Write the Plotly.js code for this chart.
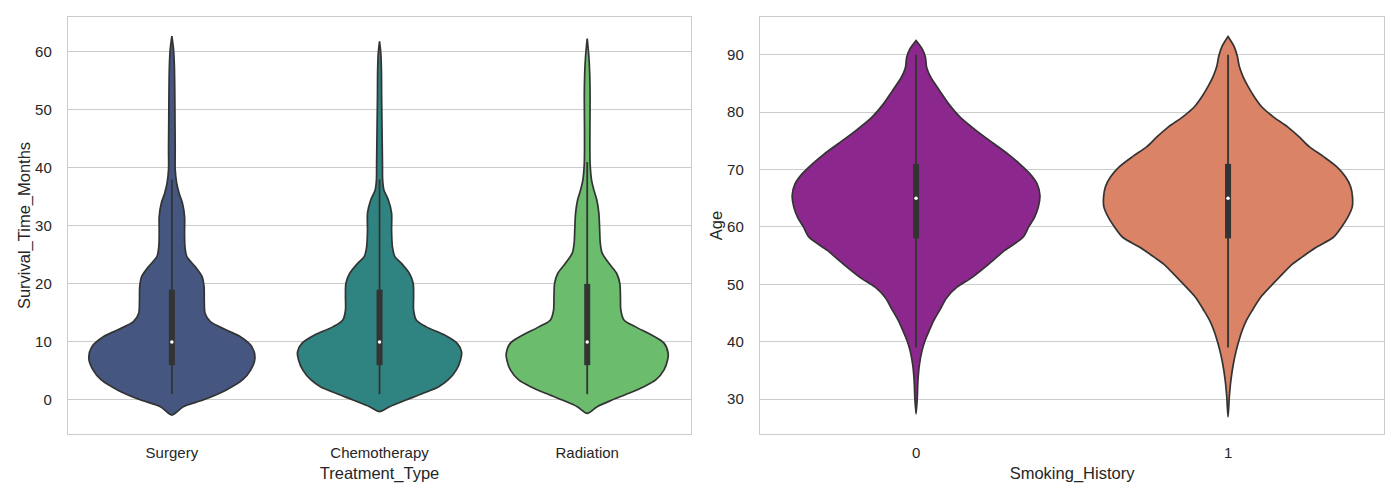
<!DOCTYPE html>
<html>
<head>
<meta charset="utf-8">
<script src="https://cdn.plot.ly/plotly-3.0.1.min.js"></script>
<style>
  html, body { margin: 0; padding: 0; background: #ffffff; }
  #chart { width: 1400px; height: 500px; }
</style>
</head>
<body>
<div id="chart"></div>
<script>
const CHART = document.getElementById('chart');

const INK = '#262626';
const GRID = '#cccccc';
const EDGE = '#333333';

// left panel: survival time by treatment
const treatments = ['Surgery', 'Chemotherapy', 'Radiation'];
const treatColors = ['#455681', '#2f8380', '#6cbc6e'];

// density outline: value levels and half widths (category units)
const surgeryY = [-2.6, -1.15, 0, 1.7, 3.45, 5.2, 7.2, 9.2, 10.9, 12.1, 13.5, 14.9, 17.2, 19.5, 21.3, 23.0, 24.7, 26.4, 28.7, 31.6, 33.9, 35.6, 37.4, 39.7, 43.1, 48, 53, 57.5, 60.4, 62.7];
const surgeryW = [0, 0.055, 0.15, 0.26, 0.34, 0.38, 0.40, 0.385, 0.33, 0.26, 0.185, 0.16, 0.156, 0.155, 0.145, 0.112, 0.072, 0.063, 0.061, 0.061, 0.051, 0.035, 0.023, 0.016, 0.016, 0.015, 0.014, 0.012, 0.008, 0];

const chemoY = [-2.0, -1.15, 0, 1.15, 2.3, 3.45, 5.2, 6.9, 8.3, 9.8, 11.2, 12.6, 13.8, 15.5, 17.8, 20.1, 21.8, 23.6, 24.7, 26.4, 29.3, 32.2, 34.5, 36.2, 37.9, 40.8, 46.6, 52.3, 56.9, 59.8, 61.8];
const chemoW = [0, 0.048, 0.128, 0.21, 0.285, 0.33, 0.37, 0.39, 0.395, 0.373, 0.313, 0.225, 0.177, 0.164, 0.164, 0.162, 0.144, 0.104, 0.074, 0.062, 0.058, 0.058, 0.042, 0.021, 0.015, 0.014, 0.012, 0.010, 0.009, 0.006, 0];

const radiationY = [-2.3, -1.15, 0, 1.15, 2.3, 3.45, 5.2, 6.9, 8.0, 9.8, 11.2, 12.6, 13.8, 15.5, 17.8, 20.1, 21.8, 23.6, 25.3, 27.0, 29.3, 32.2, 34.5, 36.2, 37.9, 40.8, 46.6, 52.3, 56.3, 59.2, 62.3];
const radiationW = [0, 0.048, 0.12, 0.20, 0.273, 0.33, 0.37, 0.387, 0.39, 0.37, 0.31, 0.233, 0.177, 0.162, 0.16, 0.157, 0.142, 0.104, 0.072, 0.063, 0.06, 0.056, 0.046, 0.032, 0.021, 0.014, 0.013, 0.014, 0.012, 0.008, 0];

const treatQ1 = [6, 6, 6];
const treatMed = [10, 10, 10];
const treatQ3 = [19, 19, 20];
const treatLo = [1, 1, 1];
const treatHi = [38, 38, 41];

// right panel: age by smoking history
const smoking = ['0', '1'];
const smokeColors = ['#8c288d', '#da8366'];

const smoke0Y = [27.4, 30.3, 33.2, 36.1, 38.4, 40.2, 41.9, 43.7, 45.4, 47.7, 49.5, 51.2, 53.5, 55.9, 58.2, 60.0, 61.7, 63.5, 65.5, 67.5, 69.2, 71.0, 72.7, 74.5, 76.8, 79.1, 81.5, 83.8, 86.1, 87.8, 89.6, 91.0, 92.5];
const smoke0W = [0, 0.004, 0.006, 0.011, 0.019, 0.029, 0.042, 0.057, 0.075, 0.099, 0.131, 0.18, 0.233, 0.284, 0.343, 0.361, 0.38, 0.392, 0.397, 0.388, 0.366, 0.332, 0.295, 0.25, 0.193, 0.142, 0.104, 0.075, 0.047, 0.034, 0.030, 0.02, 0];

const smoke1Y = [26.9, 30.3, 33.2, 36.1, 38.4, 40.2, 41.9, 43.7, 45.4, 47.7, 49.5, 51.2, 53.5, 54.7, 56.5, 58.2, 60.0, 61.7, 63.5, 65.2, 67.0, 68.7, 70.5, 72.3, 74.0, 75.7, 77.5, 79.2, 81.0, 82.7, 84.5, 86.2, 88.0, 89.7, 91.4, 93.2];
const smoke1W = [0, 0.004, 0.009, 0.017, 0.026, 0.035, 0.045, 0.059, 0.077, 0.104, 0.134, 0.164, 0.206, 0.236, 0.284, 0.338, 0.364, 0.384, 0.398, 0.399, 0.393, 0.377, 0.348, 0.305, 0.26, 0.228, 0.19, 0.145, 0.107, 0.084, 0.064, 0.048, 0.036, 0.030, 0.02, 0];

const smokeQ1 = [58, 58];
const smokeMed = [65, 65];
const smokeQ3 = [71, 71];
const smokeLo = [39, 39];
const smokeHi = [90, 90];

/**
 * Closed outline of one violin around category position pos.
 */
function violinTrace(pos, ys, ws, color, xa, ya) {
    const x = [], y = [];
    for (let i = 0; i < ys.length; i++) { x.push(pos - ws[i]); y.push(ys[i]); }
    for (let i = ys.length - 1; i >= 0; i--) { x.push(pos + ws[i]); y.push(ys[i]); }
    return {
        x: x, y: y, xaxis: xa, yaxis: ya,
        type: 'scatter', mode: 'lines', fill: 'toself', fillcolor: color,
        line: { color: EDGE, width: 1.7, shape: 'spline', smoothing: 0.8 },
        hoverinfo: 'skip', showlegend: false
    };
}

/**
 * Inner box: whisker line, thick quartile bar and white median dot.
 */
function boxTraces(pos, q1, med, q3, lo, hi, xa, ya) {
    return [
        { x: [pos, pos], y: [lo, hi], xaxis: xa, yaxis: ya, type: 'scatter', mode: 'lines',
          line: { color: EDGE, width: 1.8 }, hoverinfo: 'skip', showlegend: false },
        { x: [pos, pos], y: [q1, q3], xaxis: xa, yaxis: ya, type: 'scatter', mode: 'lines',
          line: { color: EDGE, width: 6 }, hoverinfo: 'skip', showlegend: false },
        { x: [pos], y: [med], xaxis: xa, yaxis: ya, type: 'scatter', mode: 'markers',
          marker: { color: '#ffffff', size: 3.5 }, hoverinfo: 'skip', showlegend: false }
    ];
}

const treatShapes = [[surgeryY, surgeryW], [chemoY, chemoW], [radiationY, radiationW]];
const smokeShapes = [[smoke0Y, smoke0W], [smoke1Y, smoke1W]];

let traces = [];
treatments.forEach((t, i) => {
    traces.push(violinTrace(i, treatShapes[i][0], treatShapes[i][1], treatColors[i], 'x', 'y'));
    traces = traces.concat(boxTraces(i, treatQ1[i], treatMed[i], treatQ3[i], treatLo[i], treatHi[i], 'x', 'y'));
});
smoking.forEach((s, i) => {
    traces.push(violinTrace(i, smokeShapes[i][0], smokeShapes[i][1], smokeColors[i], 'x2', 'y2'));
    traces = traces.concat(boxTraces(i, smokeQ1[i], smokeMed[i], smokeQ3[i], smokeLo[i], smokeHi[i], 'x2', 'y2'));
});

const tickFont = { family: 'Liberation Sans, Arial, sans-serif', size: 15, color: INK };
const titleFont = { family: 'Liberation Sans, Arial, sans-serif', size: 16.5, color: INK };

function xAxis(domain, labels, title, anchor) {
    return {
        domain: domain, anchor: anchor,
        range: [-0.5, labels.length - 0.5],
        tickvals: labels.map((_, i) => i), ticktext: labels,
        showgrid: false, zeroline: false, ticks: '',
        ticklabelstandoff: 5,
        showline: true, mirror: true, linecolor: GRID, linewidth: 1.25,
        tickfont: tickFont,
        title: { text: title, font: titleFont, standoff: 7 },
        fixedrange: true
    };
}

function yAxis(domain, range, title, anchor) {
    return {
        domain: domain, anchor: anchor, range: range, dtick: 10,
        showgrid: true, gridcolor: GRID, gridwidth: 1, zeroline: false, ticks: '',
        ticklabelstandoff: 12,
        showline: true, mirror: true, linecolor: GRID, linewidth: 1.25,
        tickfont: tickFont,
        title: { text: title, font: titleFont, standoff: 0 },
        fixedrange: true
    };
}

const layout = {
    width: 1400, height: 500,
    margin: { l: 0, r: 0, t: 0, b: 0 },
    paper_bgcolor: '#ffffff', plot_bgcolor: '#ffffff',
    showlegend: false,
    xaxis: xAxis([0.0486, 0.4936], treatments, 'Treatment_Type', 'y'),
    yaxis: yAxis([0.132, 0.966], [-5.86, 66.0], 'Survival_Time_Months', 'x'),
    xaxis2: xAxis([0.5429, 0.9886], smoking, 'Smoking_History', 'y2'),
    yaxis2: yAxis([0.132, 0.966], [23.9, 96.6], 'Age', 'x2')
};

Plotly.newPlot(CHART, traces, layout, { displayModeBar: false, staticPlot: true });
</script>
</body>
</html>
